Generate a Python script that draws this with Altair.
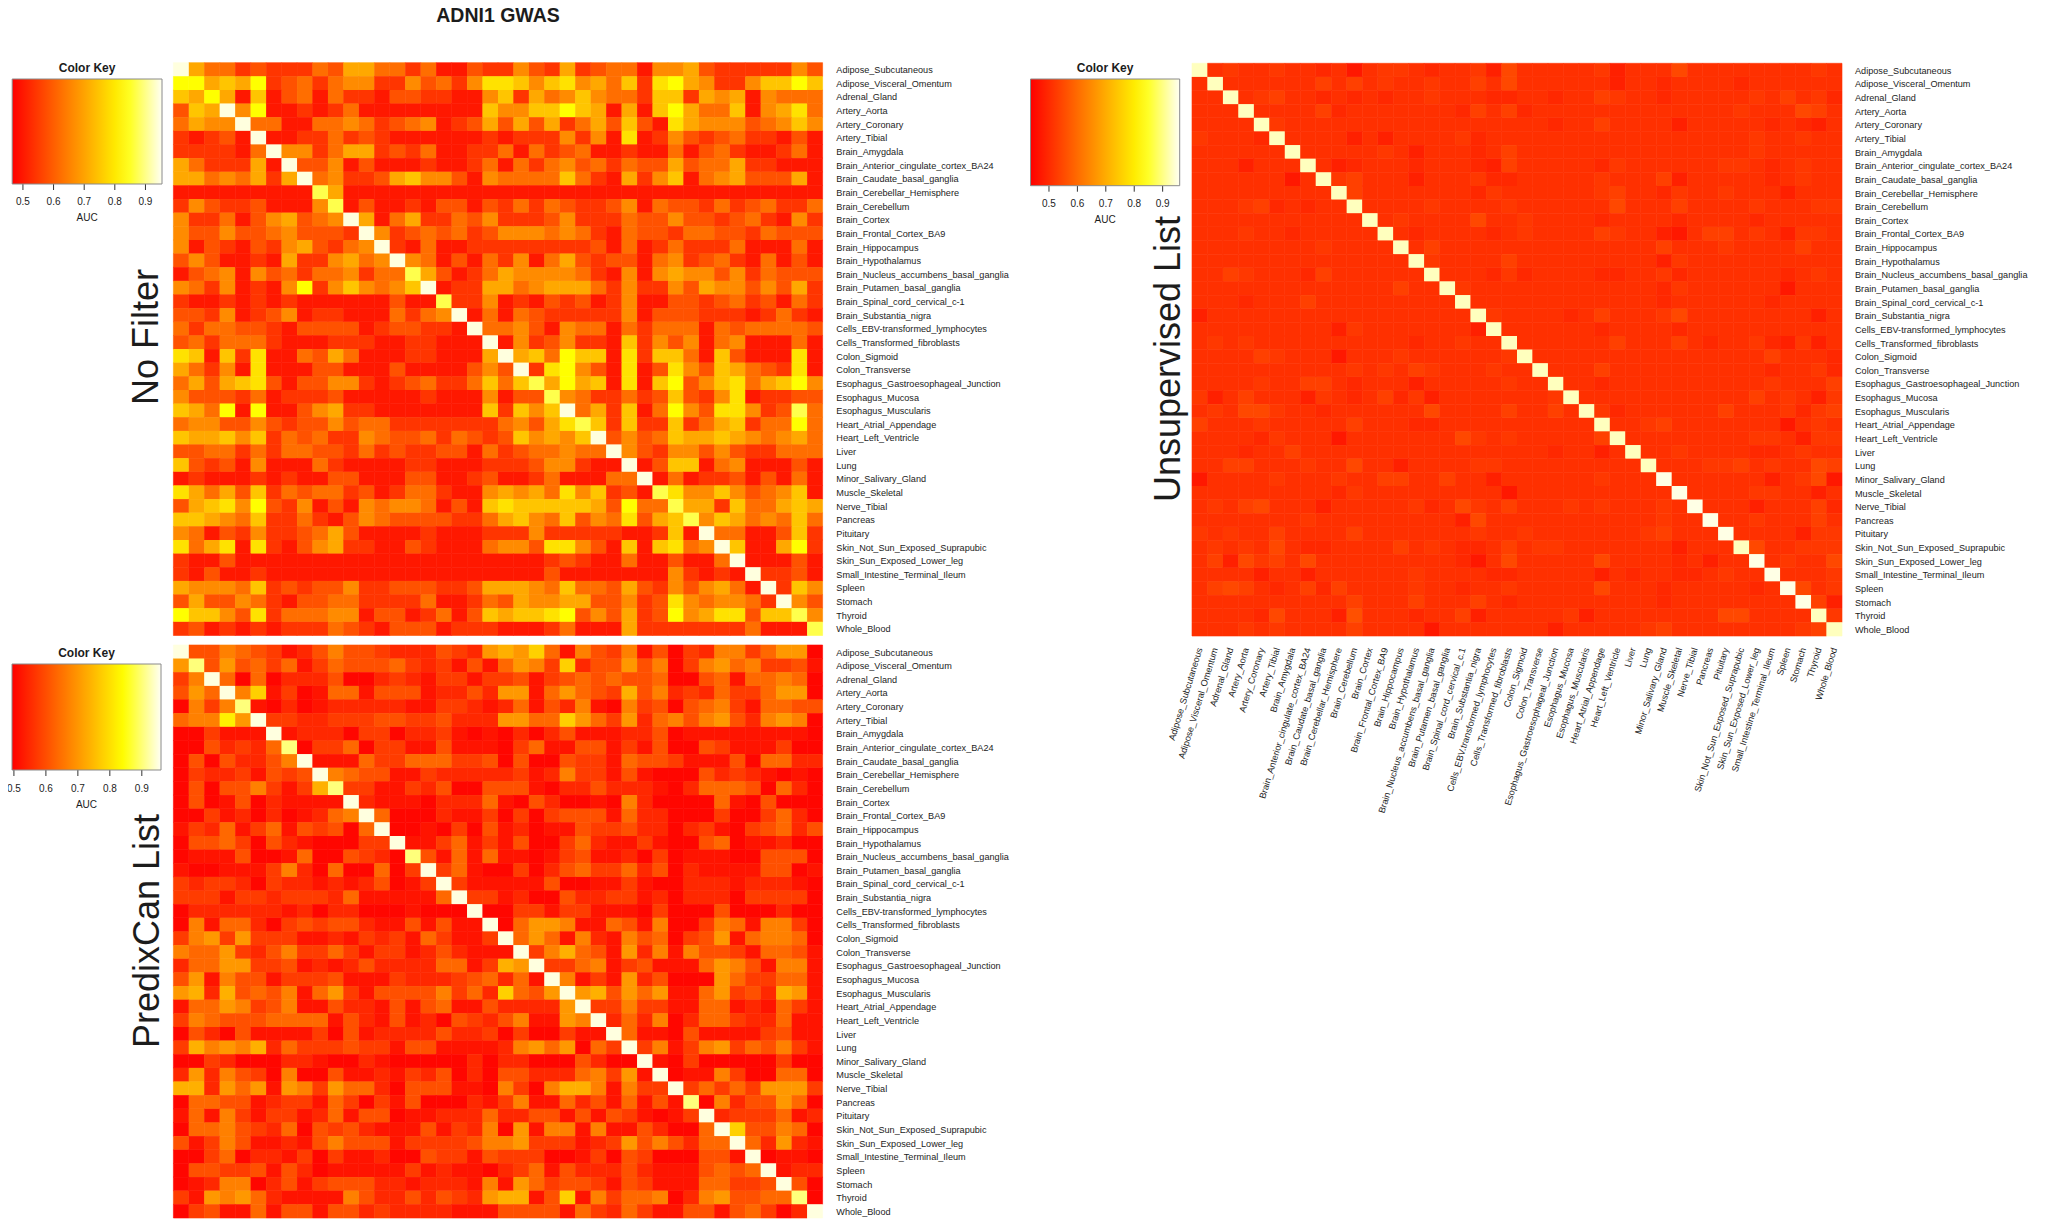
import altair as alt
import pandas as pd

NAMES = ["Adipose_Subcutaneous","Adipose_Visceral_Omentum","Adrenal_Gland","Artery_Aorta","Artery_Coronary","Artery_Tibial",
"Brain_Amygdala","Brain_Anterior_cingulate_cortex_BA24","Brain_Caudate_basal_ganglia","Brain_Cerebellar_Hemisphere","Brain_Cerebellum",
"Brain_Cortex","Brain_Frontal_Cortex_BA9","Brain_Hippocampus","Brain_Hypothalamus","Brain_Nucleus_accumbens_basal_ganglia",
"Brain_Putamen_basal_ganglia","Brain_Spinal_cord_cervical_c-1","Brain_Substantia_nigra","Cells_EBV-transformed_lymphocytes",
"Cells_Transformed_fibroblasts","Colon_Sigmoid","Colon_Transverse","Esophagus_Gastroesophageal_Junction","Esophagus_Mucosa",
"Esophagus_Muscularis","Heart_Atrial_Appendage","Heart_Left_Ventricle","Liver","Lung","Minor_Salivary_Gland","Muscle_Skeletal",
"Nerve_Tibial","Pancreas","Pituitary","Skin_Not_Sun_Exposed_Suprapubic","Skin_Sun_Exposed_Lower_leg",
"Small_Intestine_Terminal_Ileum","Spleen","Stomach","Thyroid","Whole_Blood"]
BOTTOM_NAMES = [n.replace("c-1","c.1").replace("EBV-","EBV.") for n in NAMES]
TICKS = [0.5,0.6,0.7,0.8,0.9]
HEAT = ["#ff0000", "#ff5500", "#ffaa00", "#ffff00", "#fffff4"]

# colour-read levels for each panel, as AUC
LEVELS_A = {"0":.4995,"1":.541,"2":.583,"3":.623,"4":.665,"5":.707,"6":.748,"7":.790,"8":.832,"a":.870,"9":.943}
LEVELS_B = {"0":.502,"1":.521,"2":.549,"3":.576,"4":.604,"5":.637,"6":.669,"7":.702,"8":.735,"b":.779,"c":.823,"a":.902,"9":.950}
LEVELS_C = {"0":.472,"1":.484,"2":.497,"3":.509,"4":.521,"5":.534,"6":.546,"7":.559,"a":.931,"9":.952}

ROWS_A = """9533121 1132553 3130021 1421512 3304452 1111142
8856581 2313441 1423147 7646745 3617854 1146686
6585060 2303110 2211004 6153464 3316615 4504333
2659480 0101300 0000006 4466865 0506853 3604573
3544933 0033431 2340125 2525135 2620754 4423464
1012090 0113121 0000001 0111414 0701421 2311020
1111039 4413551 2130011 3031230 0100302 3100130
5311150 9224020 0010013 0313423 1322523 3511000
5534351 5934112 5644204 3333631 0514603 4522250
0000000 00a5000 0000000 0000000 0000000 0000000
1421120 004a020 0102202 1313211 2403221 3123113
4113024 5234950 3511324 1112411 1322422 1231041
4224223 4222194 1232312 4443431 0322133 2213222
4021021 4521349 1030011 1111112 0301311 1300030
2420010 5114534 9430203 1403521 2203412 3103020
0234042 3133413 3a52013 5444431 0404544 2413222
4314010 4814643 4690115 5345553 1411425 4424251
1001010 1000000 200a114 0102120 1400221 2312031
2214012 4011000 3134903 0321111 1402221 1101310
3133221 0222201 2211093 3420433 0313330 3233332
2313331 0001110 0110009 0412411 0614240 3400030
7606170 0325300 0110005 9563866 0716630 6200070
5314070 0022000 2000024 2917842 0702742 6532170
3525672 0224410 1231136 36a5856 0706824 6735684
4222130 1112000 0010004 022a431 1312621 4701122
6538080 0245110 0000006 1646935 1603842 77412a3
3442242 1224233 1111111 34257a6 1611613 5613383
6556461 3231143 2231321 2645469 2423655 6543453
2233131 3322131 2112203 1233433 9421442 4211333
6212040 0031000 0110001 1124410 0902660 3400020
0100010 1002200 0220012 0013000 3390301 1202030
7535261 3233120 1331004 5453746 120a744 6423460
2567482 1402043 4430206 7666665 2833a55 1633565
6654361 1310243 2222113 5643624 37256a4 6534363
4302141 1235200 0010001 1141111 1001609 3300261
7357071 0245110 0210003 4427742 0606734 9600581
1002000 0000000 0000000 0001210 0300200 3900020
1020010 0000000 0000000 0002000 0000410 1091120
5444361 2122411 2221125 5543633 2521424 5309164
2522431 0223311 1130013 2544552 2412743 4431942
8664271 3334402 2013026 5667824 2512845 77266a4
1201010 1113210 2220111 0001300 0511111 113000a""".split("\n")

ROWS_B = """9446543 1246443 2224327 87b5164 3614032 6635770
7a47453 5135444 5323141 5763b24 4746036 7563341
3695050 2224002 3213313 3413454 5445004 5155650
47596b1 3015514 4412242 7715754 3846232 5335770
0636a10 2012222 2113321 2514261 0634045 6315544
566c793 3223334 4334222 7755b75 3725646 7426760
0031119 1222033 0223101 0202411 1224011 1111110
0042325 a033503 3114111 0351144 1314004 3111300
0404224 6911153 3555334 0400433 1544311 1405522
0322314 3496544 1132222 2312633 1410004 2321010
0404463 138a331 1324004 4410224 2221025 5540520
0401402 1111921 1102225 1042001 0620000 5104000
0031202 0125695 0002113 0303444 1522000 3003520
1325135 1434059 0010304 1201143 3422023 1034524
0445304 2100033 9113513 1400352 1131004 5011200
0111400 1500432 0a41515 1101341 1203011 1004440
1001113 6205005 0393510 0302453 3524021 1114401
3233203 2212124 0139311 1114001 1310022 2122210
3331332 3332511 1115933 1200422 3312022 2033330
0222222 1202200 0100090 0331331 1103000 4000200
0615520 3434421 1414119 0577611 5416003 6516630
3673733 3112132 3153113 9575162 1645034 7156650
6557324 6335313 3124211 1936854 1726164 4315541
2557733 4121242 2225513 8793356 1341115 7641661
4716441 3334111 3222345 2519613 1724000 7533551
7828454 6157314 4446352 b547978 4757115 7342871
1557634 6114221 4145114 2222793 3633115 5121531
3654445 5551421 4120432 4611769 2526025 5322511
0420411 1130412 2224223 0300311 9511041 1113411
3867682 5333433 1441111 2675705 3936136 7354631
0032000 2210021 0000020 2200042 0091030 0000300
2726430 6004112 1324020 4422256 3719011 6300550
8827571 7637552 0444110 6306886 1633935 3537773
0554412 3315303 1400021 3611524 15141a0 6244750
1516313 3125144 0112225 2244141 4310139 2333512
0556432 5043421 1141326 0716616 1142005 9b44650
4136411 2146444 1333346 6733312 3746425 5952721
0035022 1303112 0043314 3330013 0430004 4190110
0443341 4201111 1312110 2351422 2421114 5459122
0126602 4134442 2122216 1753443 1431115 5334940
3176752 1111642 2424327 8814b16 3556026 74455a0
0341151 4414423 2222111 4444153 2531144 1453029""".split("\n")

ROWS_C = """a343343 3230344 3233416 3333341 3336333 3333343
3a33333 3535343 3433536 3333331 3323333 2333333
33a3453 3232323 3433322 3323354 3323333 3435342
333a333 3523333 3332535 2333333 3333333 4333653
3333a43 3333333 3333333 3323353 3331333 3323213
43332a3 3331313 3334233 3333333 3333333 3433433
333333a 3333343 1333235 3333333 3333333 3433333
3331333 a312333 2333215 3333324 3333334 4323433
3333330 3a45333 1333422 3333343 3351333 3323433
3333333 33a5333 3333243 3333345 3324334 3331333
3334523 233a333 3433334 3333336 3335333 3433344
3333333 3333a34 3333633 4333323 3332333 3233333
3334332 33333a3 2333323 4333354 3310355 3431443
3333333 343333a 3533333 3333333 3353334 3333533
3333333 3333333 a433335 3333333 3314333 3333333
3354333 2533333 3a33324 2333322 3342333 3332343
3333333 3333335 33a4333 3333333 3324333 3330333
3332333 5333333 333a333 3333333 3323333 3323333
1333333 3333333 3333a43 3332353 3346333 3333313
3333333 3314333 33331a3 3333323 3332333 3333333
3434333 3333333 233433a 3333335 3335323 3421413
3333543 3303334 3333334 a333333 3333333 3353332
3333333 3334343 5433343 3a33353 3333333 3323342
3333433 5532333 1333334 33a3323 3333333 3343335
4135333 1432352 4133333 334a333 3333333 3534314
3436643 3233333 3633335 3353a42 3333335 3334245
5333433 3335333 2233333 33333a3 3453333 3330343
3333243 3303333 3336434 333335a 3333333 3443144
3332335 3333333 3333333 3323313 a334333 3223433
3355333 4336331 3333443 3333333 3a33344 5343365
0333343 3343355 3353313 3333343 3393333 3313460
3333333 3324333 3333330 3333333 3339333 3443313
3435633 3133333 4236435 3334343 3343933 3133352
3333333 4333333 3331633 3333333 3343393 3433353
4343353 3335333 3333433 4333333 3453339 3333144
3434363 2233335 3432235 3443333 3331333 a633444
3516453 6333333 3332036 3333363 3332313 3934336
3333133 1333333 4333322 3333313 2332234 3393334
3565323 5253333 4332334 3333363 3323333 3239634
3333333 3335333 5333532 3333333 3323333 3333951
3333263 3317333 2335133 3334133 3333336 63333a4
3334343 3335333 3033333 3313333 3453333 333345a""".split("\n")

M = 8  # page margin
TXT = "#1c1c1c"
FONT = "Liberation Sans"


def cells(rows, levels, xnames):
    recs = []
    for r, name in enumerate(NAMES):
        s = rows[r].replace(" ", "")
        assert len(s) == 42, (r, len(s), s)
        for c, ch in enumerate(s):
            recs.append({"row": name, "col": xnames[c], "auc": levels[ch]})
    return pd.DataFrame(recs)


def note(text, x, y, size=10, bold=False, angle=None, align="center", base="middle"):
    kw = dict(fontSize=size, font=FONT, color=TXT, align=align, baseline=base,
              fontWeight="bold" if bold else "normal")
    if angle is not None:
        kw["angle"] = angle
    return alt.Chart(pd.DataFrame({"t": [text]})).mark_text(**kw).encode(
        x=alt.value(x - M), y=alt.value(y - M), text="t:N")


def panel(rows, levels, box, key, dom, side_x, title, title_xy, ky, xnames=NAMES):
    x0, x1, y0, y1 = box
    kx0, kx1, ky0, ky1 = key
    lo, hi = dom
    xs = alt.Scale(domain=xnames, range=[x0 - M, x1 - M], paddingInner=0, paddingOuter=0)
    ys = alt.Scale(domain=NAMES, range=[y0 - M, y1 - M], paddingInner=0, paddingOuter=0)
    cs = alt.Scale(domain=[lo, hi], range=HEAT, interpolate="rgb")
    kscale = alt.Scale(domain=[lo, hi], range=[kx0 - M, kx1 - M], nice=False, zero=False)
    df = cells(rows, levels, xnames)
    edge = alt.Chart(df).mark_rect(filled=False, strokeWidth=0.6).encode(
        x=alt.X("col:N", scale=xs, axis=None),
        y=alt.Y("row:N", scale=ys, axis=None),
        color=alt.Color("auc:Q", scale=cs, legend=None),
    )
    heat = alt.Chart(df).mark_rect().encode(
        x=alt.X("col:N", scale=xs, axis=None),
        y=alt.Y("row:N", scale=ys, axis=None),
        color=alt.Color("auc:Q", scale=cs, legend=alt.Legend(
            type="gradient", orient="none", legendX=kx0 - M, legendY=ky0 - M, direction="horizontal",
            gradientLength=kx1 - kx0, gradientThickness=ky1 - ky0, title=None, labelOpacity=0,
            labelFontSize=1, gradientStrokeColor="#8a8a8a", gradientStrokeWidth=1)),
    )
    side = alt.Chart(pd.DataFrame({"name": NAMES})).mark_text(
        align="left", baseline="middle", fontSize=9.15, font=FONT, color=TXT, dy=0.7).encode(
        x=alt.value(side_x - M), y=alt.Y("name:N", scale=ys, axis=None), text="name:N")
    tk = pd.DataFrame({"v": TICKS, "l": [f"{v:.1f}" for v in TICKS]})
    rules = alt.Chart(tk).mark_rule(color="#333333", strokeWidth=1).encode(
        x=alt.X("v:Q", scale=kscale, axis=None),
        y=alt.value(ky1 - M), y2=alt.value(ky1 + 6 - M))
    labs = alt.Chart(tk).mark_text(fontSize=10, font=FONT, color=TXT, baseline="middle").encode(
        x=alt.X("v:Q", scale=kscale, axis=None), y=alt.value(ky[0] - M), text="l:N")
    cx = (kx0 + kx1) / 2
    return [edge, heat, side, rules, labs,
            note("Color Key", cx, ky0 - 11, size=12, bold=True),
            note("AUC", cx, ky[1], size=10),
            note(title, title_xy[0], title_xy[1], size=36, angle=270, base="alphabetic")]


layers = [note("ADNI1 GWAS", 498, 16, size=19.5, bold=True)]
layers += panel(ROWS_A, LEVELS_A, (173.4, 822.6, 62.7, 635.5), (12.2, 162, 79, 184), (.465, .954),
                836.3, "No Filter", (158, 337), (202, 218))
layers += panel(ROWS_B, LEVELS_B, (173.4, 822.6, 645, 1218), (12, 161, 664, 770), (.494, .96),
                836.3, "PredixCan List", (159, 931), (789, 805))
layers += panel(ROWS_C, LEVELS_C, (1192, 1842, 63.3, 636), (1030.5, 1179.7, 79, 185.7), (.435, .96),
                1855, "Unsupervised List", (1180, 359), (203.5, 220), xnames=BOTTOM_NAMES)
bx = alt.Scale(domain=BOTTOM_NAMES, range=[1192 - M, 1842 - M], paddingInner=0, paddingOuter=0)
layers.append(alt.Chart(pd.DataFrame({"name": BOTTOM_NAMES})).mark_text(
    align="right", baseline="middle", angle=287, fontSize=9.15, font=FONT, color=TXT).encode(
    x=alt.X("name:N", scale=bx, axis=None), y=alt.value(648 - M), text="name:N"))

chart = alt.layer(*layers).resolve_scale(x="independent", y="independent", color="independent").properties(
    width=2039, height=1212, padding=0, background="white",
    autosize=alt.AutoSizeParams(type="none")).configure_view(strokeWidth=0)
chart.save("out.html", embed_options={"renderer": "svg", "actions": False})
